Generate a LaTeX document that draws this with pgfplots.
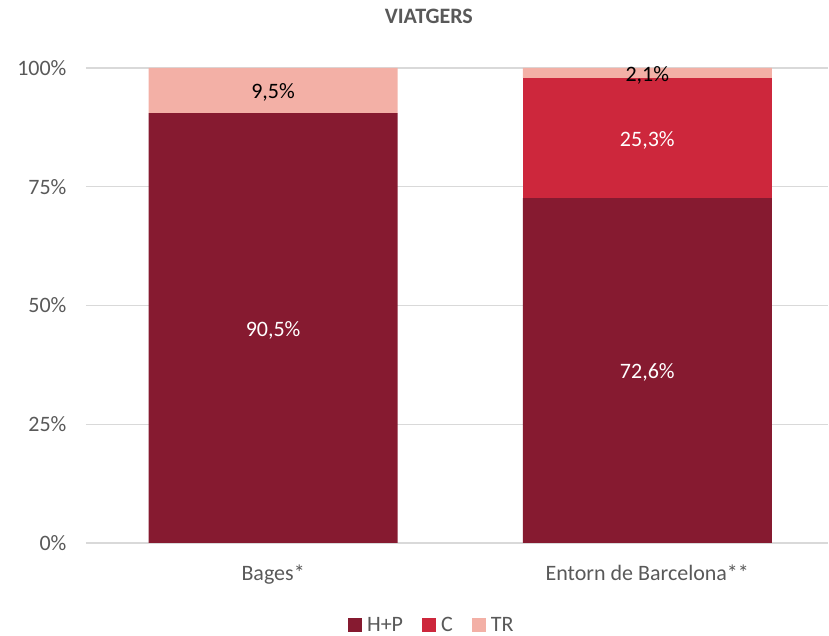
\documentclass[border=0pt]{standalone}
\usepackage{pgfplots}
\pgfplotsset{compat=1.18}
\usepackage{fontspec}
\setmainfont{Carlito}
\definecolor{hp}{RGB}{134,26,48}
\definecolor{cc}{RGB}{205,39,60}
\definecolor{tr}{RGB}{243,176,166}
\definecolor{txt}{RGB}{89,89,89}
\definecolor{gridc}{RGB}{217,217,217}

\begin{document}
\begin{tikzpicture}
\useasboundingbox (-86pt,-93pt) rectangle (743pt,543pt);
\begin{axis}[
    scale only axis,
    width=742pt, height=475pt,
    ybar stacked,
    bar width=249pt,
    xmin=-0.5, xmax=1.483,
    ymin=0, ymax=100,
    xtick={0,1},
    xticklabels={Bages*, Entorn de Barcelona**},
    ytick={0,25,50,75,100},
    yticklabel={\pgfmathprintnumber{\tick}\%},
    /pgf/number format/assume math mode=true,
    ymajorgrids,
    grid style={draw=gridc, line width=1.2pt},
    axis line style={draw=none},
    major tick length=0pt,
    tick label style={font=\fontsize{22}{26}\selectfont, text=txt},
    yticklabel style={xshift=-16pt},
    xticklabel style={yshift=-18pt},
    title={\textbf{VIATGERS}},
    title style={at={(0.462,1)}, anchor=center, yshift=46pt,
                 font=\fontsize{22}{26}\selectfont, text=txt},
    legend style={at={(0.468,-0.172)}, anchor=center, draw=none,
                  inner sep=0pt, font=\fontsize{22}{26}\selectfont, text=txt,
                  /tikz/every even column/.append style={column sep=14pt},
                  nodes={inner xsep=5pt, inner ysep=0pt}},
    legend columns=-1,
    legend image code/.code={\fill[#1] (0pt,-7pt) rectangle (14pt,7pt);},
    nodes near coords={\pgfmathprintnumber[fixed, fixed zerofill, precision=1, use comma]{\pgfplotspointmeta}\%},
    every node near coord/.append style={anchor=center, yshift=-2pt,
                 font=\fontsize{22}{26}\selectfont, text=white},
]
  % H+P
  \addplot [fill=hp, draw=none] coordinates {(0,90.5) (1,72.6)};
  \addlegendentry{H+P}
  % C
  \addplot [fill=cc, draw=none] coordinates {(0,0) (1,25.3)};
  \addlegendentry{C}
  % TR
  \addplot [fill=tr, draw=none, every node near coord/.append style={text=black}] coordinates {(0,9.5) (1,2.1)};
  \addlegendentry{TR}
\end{axis}
\end{tikzpicture}
\end{document}
